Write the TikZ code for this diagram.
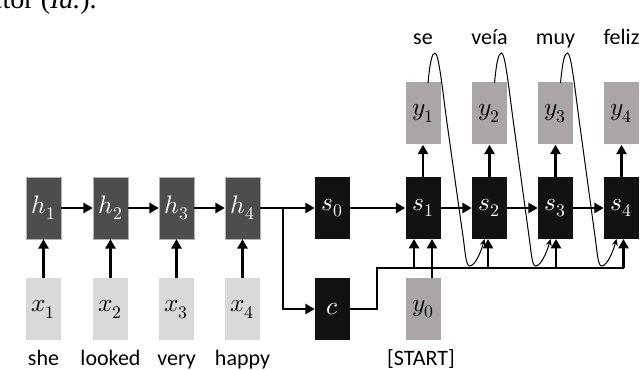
\documentclass[tikz,border=0pt]{standalone}
\usepackage{fontspec}
\usepackage{unicode-math}
\setmainfont{Carlito}
\setmathfont{Latin Modern Math}
\newfontfamily\serifpart{Liberation Serif}
\usetikzlibrary{arrows.meta}
\definecolor{hgray}{HTML}{4D4D4D}
\definecolor{xgray}{HTML}{D9D9D9}
\definecolor{ygray}{HTML}{A9A6A5}
\definecolor{sblack}{HTML}{121212}
\newcommand{\bm}[1]{{\fontsize{19}{22}\selectfont$#1$}}
\tikzset{
  box/.style={minimum width=26.25pt, minimum height=46.5pt, inner sep=0pt},
  hbox/.style={box, fill=hgray, text=white, draw=gray!60, line width=0.3pt},
  xbox/.style={box, fill=xgray},
  sbox/.style={box, fill=sblack, text=white},
  ybox/.style={box, fill=ygray},
  word/.style={font=\fontsize{16.5}{19}\selectfont, inner sep=0pt, anchor=base},
  arr/.style={line width=2.2pt, -{Triangle[length=7pt,width=7.5pt]}},
  bus/.style={line width=2.2pt},
  fb/.style={line width=0.75pt, -{Stealth[length=5pt,width=4.5pt]}}
}
\begin{document}
\begin{tikzpicture}[x=0.75pt,y=-0.75pt]
\useasboundingbox (0,0) rectangle (640,370);
\node[anchor=base east, inner sep=0pt, font=\serifpart\fontsize{21}{24}\selectfont] (cut) at (97,9) {ector (\textit{Id.}).};
% encoder
\foreach \i/\xx/\w in {1/43.5/she, 2/110.5/looked, 3/176.5/very, 4/242.5/happy}{
  \node[hbox] (h\i) at (\xx,208) {\bm{h_{\i}}};
  \node[xbox] (x\i) at (\xx,309.5) {\bm{x_{\i}}};
  \node[word] (w\i) at (\xx,366) {\w};
  \draw[arr] (x\i) -- (h\i);
}
\foreach \i/\j in {1/2,2/3,3/4}{ \draw[arr] (h\i) -- (h\j); }
% decoder
\node[sbox] (s0) at (332.5,208) {\bm{s_0}};
\node[sbox] (c) at (332.5,309) {\bm{c}};
\node[ybox] (y0) at (423,309) {\bm{y_0}};
\node[word] (start) at (421,366) {[START]};
\foreach \i/\xx/\w in {1/423/se, 2/489.5/veía, 3/555.5/muy, 4/621.5/feliz}{
  \node[sbox] (s\i) at (\xx,208) {\bm{s_{\i}}};
  \node[ybox] (y\i) at (\xx,113.5) {\bm{y_{\i}}};
  \node[word] (t\i) at (\xx,45) {\w};
  \draw[arr] (s\i) -- (y\i);
}
\foreach \i/\j in {0/1,1/2,2/3,3/4}{ \draw[arr] (s\i) -- (s\j); }
\draw[arr] (h4) -- (s0);
\coordinate (br) at (283,208);
\draw[arr] (br) |- (c.west);
\coordinate (b1) at (377,268);
\coordinate (bend) at (623.5,268);
\draw[bus] (c.east) -| (b1) -- (bend);
\draw[arr] (414,268) -- (414,239);
\draw[arr] (488,268) -- (488,239);
\draw[arr] (556,268) -- (556,239);
\draw[arr] (bend) -- (623.5,239);
\draw[arr] (y0.north -| 432,0) -- (432,239);
% feedback curves
\foreach \a/\b in {423/489.5, 489.5/555.5, 555.5/621.5}{
  \draw[fb] (\a+5,83) .. controls (\a+7,62) and (\a+9,53) .. (\a+12,53)
    .. controls (\a+16,53) and (\a+20,95) .. (\a+25,130)
    -- (\b-26,240) .. controls (\b-24.5,251) and (\b-23.5,266) .. (\b-20,266)
    .. controls (\b-14,266) and (\b-8,250) .. (\b-5,239);
}
\end{tikzpicture}
\end{document}
